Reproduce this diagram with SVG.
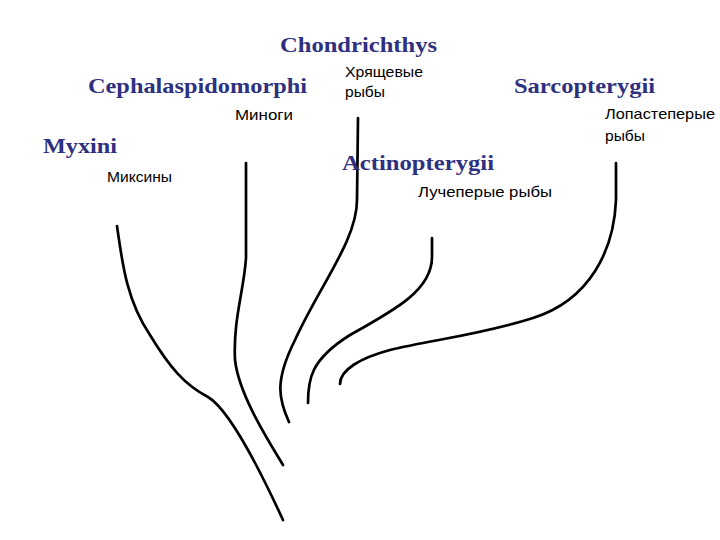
<svg xmlns="http://www.w3.org/2000/svg" width="720" height="540" viewBox="0 0 720 540">
<style>
.t{font-family:"Liberation Serif","Times New Roman",serif;font-weight:bold;font-size:22px;fill:#2e3080}
.r{font-family:"Liberation Sans",Arial,sans-serif;font-size:14.5px;fill:#000}
.c{fill:none;stroke:#000;stroke-width:2.7;stroke-linecap:round;stroke-linejoin:round}
</style>
<rect width="720" height="540" fill="#fff"/>
<g id="connectors">
<path class="c" d="M117,226 C122,260 126,300 150,335 C170,368 185,385 208,397 C230,410 260,470 283,520"/>
<path class="c" d="M246,163 L246,258 C244,290 233,320 235,360 C239,395 268,440 283,465"/>
<path class="c" d="M358,118 L357,200 C357,240 320,285 295,340 C275,380 278,398 289,422"/>
<path class="c" d="M432,238 L432,257 C432,290 395,310 350,335 C310,360 308,380 308,403"/>
<path class="c" d="M616,163 L616,200 C614,250 590,300 533,318 C480,335 430,340 390,350 C360,358 340,370 340,384"/>
</g>
<g id="chondrichthys"><text class="t" x="280" y="52" textLength="157" lengthAdjust="spacingAndGlyphs">Chondrichthys</text>
<text class="r" x="345" y="77" textLength="78" lengthAdjust="spacingAndGlyphs">Хрящевые</text><text class="r" x="345" y="97" textLength="40" lengthAdjust="spacingAndGlyphs">рыбы</text></g>
<g id="cephalaspidomorphi"><text class="t" x="88" y="93" textLength="219" lengthAdjust="spacingAndGlyphs">Cephalaspidomorphi</text>
<text class="r" x="235" y="120" textLength="58" lengthAdjust="spacingAndGlyphs">Миноги</text></g>
<g id="myxini"><text class="t" x="43" y="153" textLength="74" lengthAdjust="spacingAndGlyphs">Myxini</text>
<text class="r" x="107" y="182" textLength="65" lengthAdjust="spacingAndGlyphs">Миксины</text></g>
<g id="actinopterygii"><text class="t" x="342" y="170" textLength="152" lengthAdjust="spacingAndGlyphs">Actinopterygii</text>
<text class="r" x="418" y="197" textLength="134" lengthAdjust="spacingAndGlyphs">Лучеперые рыбы</text></g>
<g id="sarcopterygii"><text class="t" x="514" y="93" textLength="141" lengthAdjust="spacingAndGlyphs">Sarcopterygii</text>
<text class="r" x="605" y="119" textLength="110" lengthAdjust="spacingAndGlyphs">Лопастеперые</text><text class="r" x="605" y="141" textLength="40" lengthAdjust="spacingAndGlyphs">рыбы</text></g>
</svg>
